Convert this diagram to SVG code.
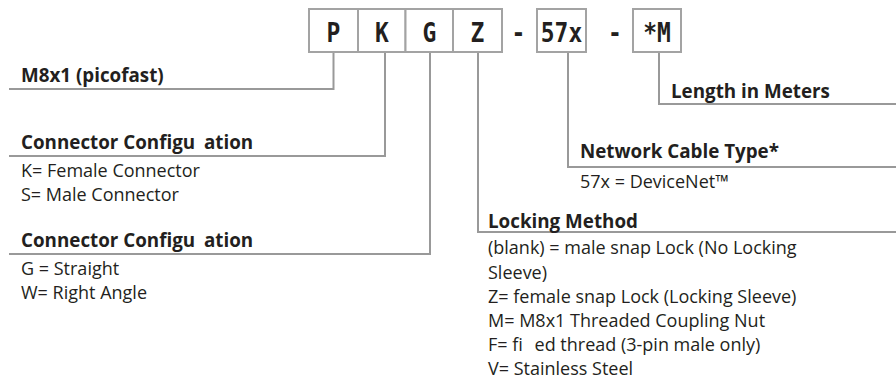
<svg xmlns="http://www.w3.org/2000/svg" width="896" height="379" viewBox="0 0 896 379">
  <style>
    .box { fill: #ffffff; stroke: #a3a3a3; stroke-width: 2; }
    .code { font-family: "DejaVu Sans Mono", "Liberation Mono", monospace; font-weight: bold; font-size: 27px; fill: #231f20; text-anchor: middle; }
    .conn { fill: none; stroke: #999999; stroke-width: 2; }
    .hd { font-family: "Open Sans", "Noto Sans", sans-serif; font-weight: bold; font-size: 18.8px; fill: #231f20; }
    .tx { font-family: "Open Sans", "Noto Sans", sans-serif; font-size: 18px; fill: #231f20; }
  </style>
  <rect width="896" height="379" fill="#ffffff"/>

  <g id="connectors">
    <polyline class="conn" points="333.5,52 333.5,89 9,89"/>
    <polyline class="conn" points="385,52 385,156 9,156"/>
    <polyline class="conn" points="430,52 430,254 9,254"/>
    <polyline class="conn" points="478,52 478,232 896,232"/>
    <polyline class="conn" points="568,52 568,167 896,167"/>
    <polyline class="conn" points="659,52 659,104 896,104"/>
  </g>

  <g id="part-number">
    <g id="box-P">
      <rect class="box" x="309" y="9" width="49" height="43"/>
      <text class="code" transform="translate(333.5,41.5) scale(0.85,1)">P</text>
    </g>
    <g id="box-K">
      <rect class="box" x="358" y="9" width="47.5" height="43"/>
      <text class="code" transform="translate(382,41.5) scale(0.85,1)">K</text>
    </g>
    <g id="box-G">
      <rect class="box" x="405.5" y="9" width="47.5" height="43"/>
      <text class="code" transform="translate(429.5,41.5) scale(0.85,1)">G</text>
    </g>
    <g id="box-Z">
      <rect class="box" x="453" y="9" width="49" height="43"/>
      <text class="code" transform="translate(477.5,41.5) scale(0.85,1)">Z</text>
    </g>
    <text class="code" transform="translate(518.5,41.5) scale(0.85,1)">-</text>
    <g id="box-57x">
      <rect class="box" x="537" y="9" width="49" height="43"/>
      <text class="code" transform="translate(561.5,41.5) scale(0.85,1)">57x</text>
    </g>
    <text class="code" transform="translate(615,41.5) scale(0.85,1)">-</text>
    <g id="box-M">
      <rect class="box" x="633" y="9" width="48" height="43"/>
      <text class="code" transform="translate(657,41.5) scale(0.85,1)">*M</text>
    </g>
  </g>

  <g id="label-M8x1">
    <text class="hd" x="21" y="82">M8x1 (picofast)</text>
  </g>

  <g id="label-connector-config-1">
    <text class="hd" x="21" y="149">Connector Configu <tspan dx="4">ation</tspan></text>
    <text class="tx" x="21" y="177">K= Female Connector</text>
    <text class="tx" x="21" y="201">S= Male Connector</text>
  </g>

  <g id="label-connector-config-2">
    <text class="hd" x="21" y="247">Connector Configu <tspan dx="4">ation</tspan></text>
    <text class="tx" x="21" y="275">G = Straight</text>
    <text class="tx" x="21" y="299">W= Right Angle</text>
  </g>

  <g id="label-length">
    <text class="hd" x="671" y="98">Length in Meters</text>
  </g>

  <g id="label-network">
    <text class="hd" x="580" y="158">Network Cable Type*</text>
    <text class="tx" x="580" y="188">57x = DeviceNet™</text>
  </g>

  <g id="label-locking">
    <text class="hd" x="488" y="228">Locking Method</text>
    <text class="tx" x="488" y="254">(blank) = male snap Lock (No Locking</text>
    <text class="tx" x="488" y="278.5">Sleeve)</text>
    <text class="tx" x="488" y="302.5">Z= female snap Lock (Locking Sleeve)</text>
    <text class="tx" x="488" y="326.5">M= M8x1 Threaded Coupling Nut</text>
    <text class="tx" x="488" y="350.5">F= fi <tspan dx="7">ed thread (3-pin male only)</tspan></text>
    <text class="tx" x="488" y="374.5">V= Stainless Steel</text>
  </g>
</svg>
